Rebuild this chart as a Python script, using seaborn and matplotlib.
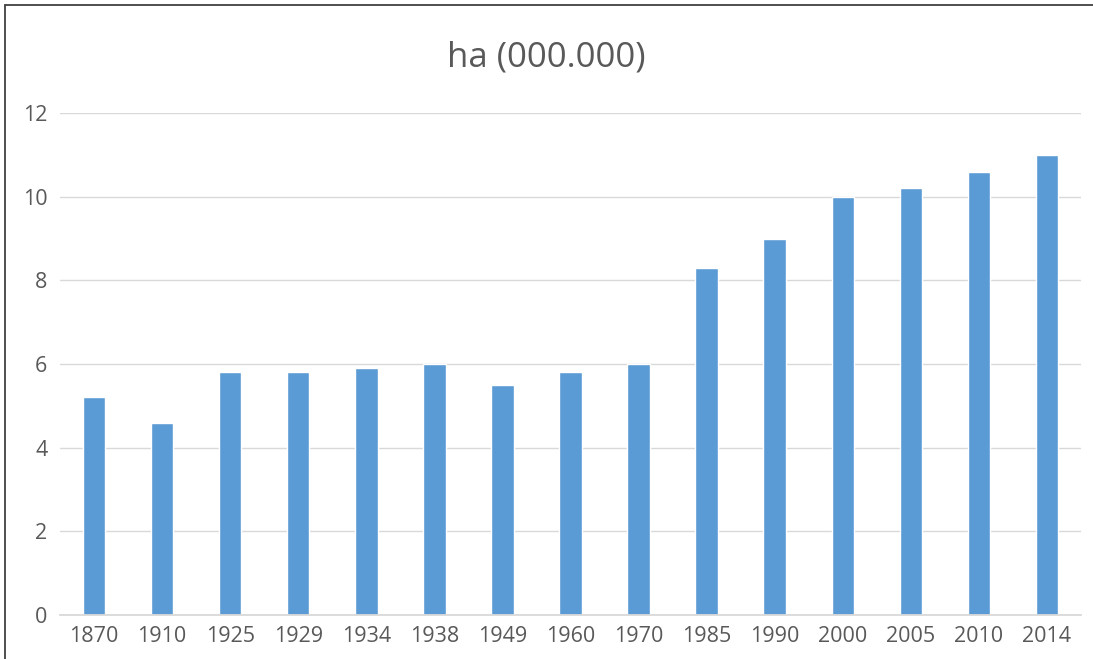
import pandas as pd
import matplotlib.pyplot as plt
import seaborn as sns
from matplotlib.lines import Line2D

# values
years = ["1870", "1910", "1925", "1929", "1934", "1938", "1949", "1960",
         "1970", "1985", "1990", "2000", "2005", "2010", "2014"]
hectares = [5.2, 4.6, 5.8, 5.8, 5.9, 6.0, 5.5, 5.8,
            6.0, 8.3, 9.0, 10.0, 10.2, 10.6, 11.0]
y_ticks = [0, 2, 4, 6, 8, 10, 12]

df = pd.DataFrame({"year": years, "ha": hectares})

sns.set_theme(style="white")
plt.rcParams['font.family'] = ['Open Sans', 'DejaVu Sans']

fig = plt.figure(figsize=(10.93, 6.59), dpi=100)
ax = fig.add_axes([60 / 1093, 44 / 659, (1081 - 60) / 1093, (615 - 113) / 659])

sns.barplot(data=df, x="year", y="ha", color="#5B9BD5", saturation=1,
            width=0.33, ax=ax, zorder=3)

ax.set_ylim(0, 12)
ax.set_xlim(-0.5, len(years) - 0.5)
ax.set_yticks(y_ticks)
ax.set_yticklabels([str(t) for t in y_ticks])
ax.grid(axis="y", color="#D9D9D9", linewidth=1.0, zorder=0)
ax.grid(axis="x", visible=False)
for side in ["top", "right", "left"]:
    ax.spines[side].set_visible(False)
ax.spines["bottom"].set_color("#D9D9D9")
ax.spines["bottom"].set_linewidth(1.3)
ax.spines["bottom"].set_zorder(4)
ax.tick_params(axis="both", length=0, labelsize=15.5, labelcolor="#595959")
ax.tick_params(axis="x", pad=8)
ax.tick_params(axis="y", pad=9)
ax.set_xlabel("")
ax.set_ylabel("")

fig.text(0.5, 1 - 58 / 659, "ha (000.000)", ha="center", va="center",
         fontsize=25, color="#595959")

# chart border (top and left edges visible in the crop)
fig.add_artist(Line2D([5 / 1093, 1], [1 - 4.5 / 659, 1 - 4.5 / 659],
                      transform=fig.transFigure, color="#404040", linewidth=1.3))
fig.add_artist(Line2D([5 / 1093, 5 / 1093], [0, 1 - 4.5 / 659],
                      transform=fig.transFigure, color="#404040", linewidth=1.3))

fig.savefig("out.png", dpi=100)
